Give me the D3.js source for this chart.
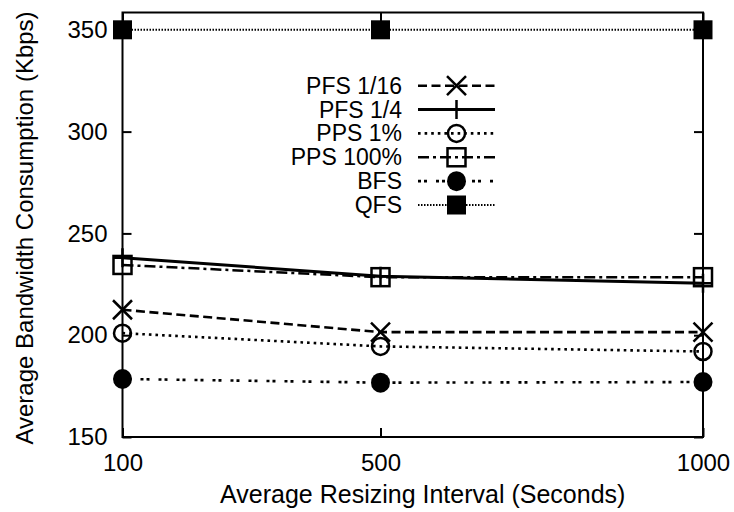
<!DOCTYPE html>
<html>
<head>
<meta charset="utf-8">
<script src="https://cdn.jsdelivr.net/npm/d3@7"></script>
<style>
  body { margin: 0; background: #fff; }
  text { font-family: "Liberation Sans", Arial, Helvetica, sans-serif; fill: #000; }
</style>
</head>
<body>
<div id="chart"></div>
<script>
// Data
var intervals = [100, 500, 1000];
var yTicks = [150, 200, 250, 300, 350];

var pfs16 = [212.5, 201.5, 201.5];
var pfs4 = [238, 229, 225.5];
var pps1 = [201, 194.5, 192];
var pps100 = [234.5, 228.5, 228.5];
var bfs = [178.5, 176.7, 177];
var qfs = [350, 350, 350];

var seriesNames = ["PFS 1/16", "PFS 1/4", "PPS 1%", "PPS 100%", "BFS", "QFS"];

var series = [
  { name: seriesNames[0], values: pfs16, dash: "9,4.5", width: 2.6, marker: "x" },
  { name: seriesNames[1], values: pfs4, dash: null, width: 3, marker: "plus" },
  { name: seriesNames[2], values: pps1, dash: "2.6,4", width: 2.6, marker: "circle" },
  { name: seriesNames[3], values: pps100, dash: "11,4,3,4", width: 2.5, marker: "square" },
  { name: seriesNames[4], values: bfs, dash: "3,3,3,9", width: 2.6, marker: "dot" },
  { name: seriesNames[5], values: qfs, dash: "1.5,1.5", width: 2, marker: "block" }
];

var svgWidth = 734;
var svgHeight = 512;

var margin = { top: 12.5, right: 31, bottom: 75, left: 122.5 };
var width = svgWidth - margin.left - margin.right;
var height = svgHeight - margin.top - margin.bottom;

var svg = d3.select("#chart")
  .append("svg")
  .attr("width", svgWidth)
  .attr("height", svgHeight);

var chartGroup = svg.append("g")
  .attr("transform", `translate(${margin.left}, ${margin.top})`);

// Scales
var xScale = d3.scaleLinear().domain([100, 1000]).range([0, width]);
var yScale = d3.scaleLinear().domain([150, 358.5]).range([height, 0]);

// Axes with inward ticks, mirrored on all sides
var tickLen = 9;
chartGroup.append("g")
  .attr("transform", `translate(0, ${height})`)
  .call(d3.axisBottom(xScale).tickValues(intervals).tickSize(-tickLen).tickPadding(17).tickFormat(d3.format("d")));
chartGroup.append("g")
  .call(d3.axisTop(xScale).tickValues(intervals).tickSize(-tickLen).tickFormat(""));
chartGroup.append("g")
  .call(d3.axisLeft(yScale).tickValues(yTicks).tickSize(-tickLen).tickPadding(15));
chartGroup.append("g")
  .attr("transform", `translate(${width}, 0)`)
  .call(d3.axisRight(yScale).tickValues(yTicks).tickSize(-tickLen).tickFormat(""));

chartGroup.selectAll(".domain").remove();
chartGroup.selectAll(".tick line").attr("stroke", "#000").attr("stroke-width", 2);
chartGroup.selectAll(".tick text").style("font-size", "24px").attr("fill", "#000");

// Frame
chartGroup.append("rect")
  .attr("width", width)
  .attr("height", height)
  .attr("fill", "none")
  .attr("stroke", "#000")
  .attr("stroke-width", 2);

// Marker drawing
function drawMarker(g, type) {
  var s = 9.5;
  if (type === "x") {
    g.append("path").attr("d", `M${-s},${-s}L${s},${s}M${-s},${s}L${s},${-s}`)
      .attr("stroke", "#000").attr("stroke-width", 2.5).attr("fill", "none");
  } else if (type === "plus") {
    g.append("path").attr("d", `M${-s},0L${s},0M0,${-s}L0,${s}`)
      .attr("stroke", "#000").attr("stroke-width", 2.5).attr("fill", "none");
  } else if (type === "circle") {
    g.append("circle").attr("r", s - 1)
      .attr("stroke", "#000").attr("stroke-width", 2.5).attr("fill", "none");
  } else if (type === "square") {
    g.append("rect").attr("x", -s + 0.5).attr("y", -s + 0.5).attr("width", 2 * s - 1).attr("height", 2 * s - 1)
      .attr("stroke", "#000").attr("stroke-width", 2.5).attr("fill", "none");
  } else if (type === "dot") {
    g.append("ellipse").attr("rx", s).attr("ry", s + 0.5).attr("fill", "#000");
  } else if (type === "block") {
    g.append("rect").attr("x", -s).attr("y", -s).attr("width", 2 * s).attr("height", 2 * s).attr("fill", "#000");
  }
}

// Lines and markers
var line = d3.line()
  .x((d, i) => xScale(intervals[i]))
  .y(d => yScale(d));

series.forEach(function(s) {
  chartGroup.append("path")
    .datum(s.values)
    .attr("d", line)
    .attr("fill", "none")
    .attr("stroke", "#000")
    .attr("stroke-width", s.width)
    .attr("stroke-dasharray", s.dash);

  chartGroup.selectAll(null)
    .data(s.values)
    .enter()
    .append("g")
    .attr("transform", (d, i) => `translate(${xScale(intervals[i])}, ${yScale(d)})`)
    .each(function() { drawMarker(d3.select(this), s.marker); });
});

// Legend
var legend = svg.append("g");
var legendRow = d3.scaleLinear().domain([0, 5]).range([85.7, 205]);
series.forEach(function(s, i) {
  var y = legendRow(i);
  legend.append("text")
    .attr("x", 402)
    .attr("y", y)
    .attr("dy", "0.35em")
    .attr("text-anchor", "end")
    .style("font-size", "23px")
    .text(s.name);
  legend.append("line")
    .attr("x1", 418).attr("x2", 495)
    .attr("y1", y).attr("y2", y)
    .attr("stroke", "#000")
    .attr("stroke-width", s.width)
    .attr("stroke-dasharray", s.dash);
  var m = legend.append("g").attr("transform", `translate(456.5, ${y})`);
  drawMarker(m, s.marker);
});

// Axis titles
svg.append("text")
  .attr("x", margin.left + width / 2 + 10)
  .attr("y", 503)
  .attr("text-anchor", "middle")
  .style("font-size", "25px")
  .text("Average Resizing Interval (Seconds)");

svg.append("text")
  .attr("transform", "rotate(-90)")
  .attr("x", -228)
  .attr("y", 25)
  .attr("dy", "0.35em")
  .attr("text-anchor", "middle")
  .style("font-size", "24px")
  .text("Average Bandwidth Consumption (Kbps)");
</script>
</body>
</html>
